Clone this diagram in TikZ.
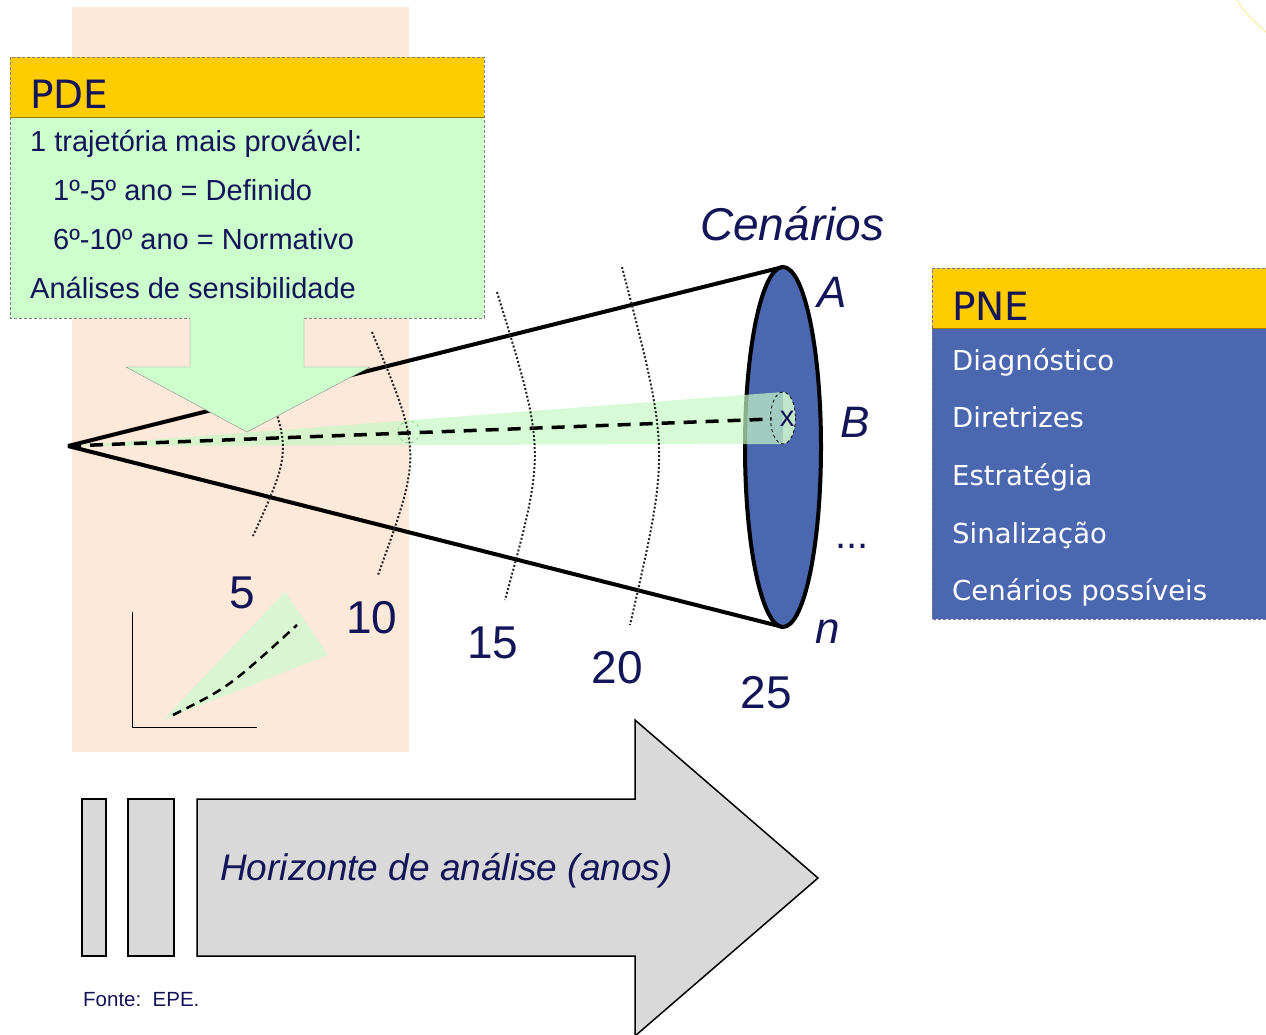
\documentclass[tikz,border=0pt]{standalone}
\usepackage{fontspec}
\setmainfont{Liberation Sans}
\newfontfamily\tahoma{DejaVu Sans}
\usetikzlibrary{positioning}

\definecolor{navy}{RGB}{20,20,88}
\definecolor{peach}{RGB}{253,233,217}
\definecolor{gold}{RGB}{255,204,0}
\definecolor{mint}{RGB}{204,255,204}
\definecolor{beamgreen}{RGB}{198,248,198}
\definecolor{capgreen}{RGB}{200,236,205}
\definecolor{pale}{RGB}{217,245,210}
\definecolor{slate}{RGB}{74,103,175}
\definecolor{ash}{RGB}{217,217,217}

\tikzset{
  lbl/.style={text=navy,inner sep=0pt,anchor=base west},
  numlbl/.style={text=navy,inner sep=0pt,anchor=base,font=\fontsize{46}{46}\selectfont},
  boxtxt/.style={lbl,font=\fontsize{29}{29}\selectfont},
  listtxt/.style={lbl,text=white,font=\tahoma\fontsize{27.5}{27.5}\selectfont},
  headtxt/.style={lbl,font=\tahoma\fontsize{39}{39}\selectfont},
  conel/.style={line width=4pt},
  arcl/.style={line width=2pt,dash pattern=on 2pt off 2pt,black!85}
}

\begin{document}
\begin{tikzpicture}[x=1pt,y=-1pt]
  \useasboundingbox (0,0) rectangle (1266,1034);

  % background strip
  \fill[peach] (72,7) rectangle (409,752);

  % corner mark
  \draw[gold!45,thick] (1236,-2) .. controls (1246,14) .. (1268,34);

  % PDE box
  \fill[mint] (10,117) rectangle (484,318);
  \fill[gold] (10,57) rectangle (484,117);
  \draw[black!50,densely dashed,thin] (10,57) rectangle (484,318);
  \draw[gold!60!black,thin] (10,117) -- (484,117);
  \node[headtxt] (pde) at (30,108) {PDE};
  \node[boxtxt] (pde1) at (30,151) {1 trajetória mais provável:};
  \node[boxtxt] (pde2) at (53,200) {1º-5º ano = Definido};
  \node[boxtxt] (pde3) at (53,249) {6º-10º ano = Normativo};
  \node[boxtxt] (pde4) at (30,298) {Análises de sensibilidade};

  % cone
  \coordinate (apex) at (68,446);
  \coordinate (ctop) at (783,267);
  \coordinate (cbot) at (783,627);
  \draw[conel] (apex) -- (ctop);
  \draw[conel] (apex) -- (cbot);
  \filldraw[fill=slate,conel] (783,447) ellipse [x radius=38, y radius=180];

  % most likely path
  \fill[beamgreen,opacity=0.7] (apex) -- (783,392) -- (783,444) -- cycle;
  \fill[capgreen,opacity=0.95] (783,392) arc [start angle=-90, end angle=90, x radius=12.5, y radius=26] -- cycle;
  \draw[dashed,thick] (783,418) ellipse [x radius=12.5, y radius=26];
  \draw[line width=3.5pt,dash pattern=on 13pt off 9pt] (apex) -- (772,419);
  \draw[black!40!green!60,dashed,thin] (409,432) circle [radius=11];
  \node[text=navy,font=\fontsize{29}{29}\selectfont,inner sep=0pt] (xmark) at (787,419) {x};

  % year marks
  \foreach \tx/\ty/\cx/\cy/\bx/\by in {258/364/292/450/253/536, 372/332/422/453/378/575,
      497/292/546/451/505/600, 622/267/670/451/630/625}
    \draw[arcl] (\tx,\ty) .. controls (\cx,\cy) .. (\bx,\by);

  \foreach \yr/\px/\py in {5/242/608, 10/372/633, 15/493/658, 20/617/683, 25/766/708}
    \node[numlbl] (yr\yr) at (\px,\py) {\yr};

  % arrow from PDE
  \filldraw[fill=mint,draw=black!45,thin] (190,318) -- (190,367) -- (126,367) -- (247,432)
    -- (370,367) -- (304,367) -- (304,318);

  % scenarios
  \node[lbl,font=\itshape\fontsize{46}{46}\selectfont] (cen) at (700,240) {Cenários};
  \node[lbl,font=\itshape\fontsize{44}{44}\selectfont] (scA) at (817,307) {A};
  \node[lbl,font=\itshape\fontsize{44}{44}\selectfont] (scB) at (840,437) {B};
  \node[lbl,font=\fontsize{40}{40}\selectfont] (scdots) at (835,548) {...};
  \node[lbl,font=\itshape\fontsize{44}{44}\selectfont] (scn) at (815,643) {n};

  % PNE box
  \fill[slate] (932,328) rectangle (1270,619);
  \fill[gold] (932,268) rectangle (1270,328);
  \draw[navy!60,densely dashed,thin] (1270,268) -- (932,268) -- (932,619) -- (1270,619);
  \draw[gold!60!black,thin] (932,328) -- (1270,328);
  \node[headtxt] (pne) at (952,320) {PNE};
  \foreach \item [count=\k from 0] in {Diagnóstico,Diretrizes,Estratégia,Sinalização,Cenários possíveis}
    \node[listtxt] (pne\k) at (952,370+57.7*\k) {\item};

  % small inset
  \fill[pale] (163,720) -- (285,592) -- (328,655) -- cycle;
  \draw[line width=2.5pt,dash pattern=on 9pt off 6pt] (173,715) .. controls (229,687) .. (297,625);
  \draw[thick] (132,612) -- (132,727) -- (257,727);

  % horizon arrow
  \filldraw[fill=ash,line width=1.5pt] (82,799) rectangle (106,956);
  \filldraw[fill=ash,line width=1.5pt] (128,799) rectangle (174,956);
  \filldraw[fill=ash,line width=1.5pt] (197,799) -- (635,799) -- (635,720) -- (818,878)
    -- (635,1036) -- (635,956) -- (197,956) -- cycle;
  \node[lbl,font=\itshape\fontsize{37}{37}\selectfont] (hor) at (220,880) {Horizonte de análise (anos)};
  \node[lbl,font=\fontsize{20.5}{20.5}\selectfont] (src) at (83,1006) {Fonte:\ \ EPE.};
\end{tikzpicture}
\end{document}
